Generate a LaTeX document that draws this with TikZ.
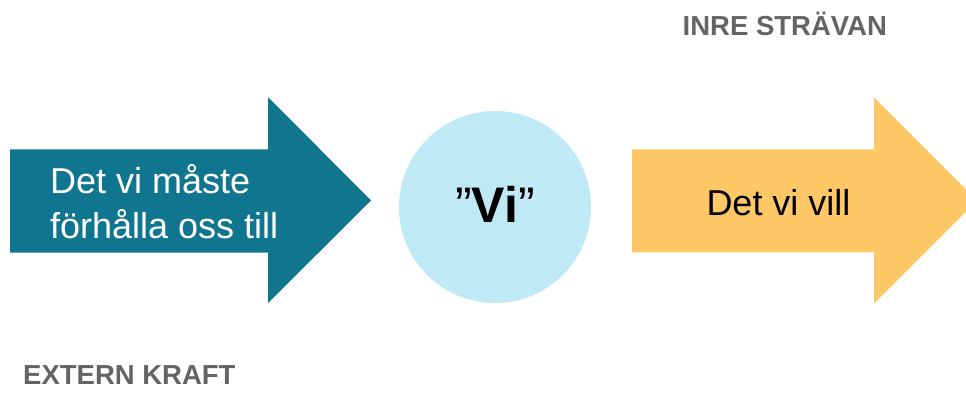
\documentclass[tikz,border=0pt]{standalone}
\usepackage{fontspec}
\setmainfont{Liberation Sans}
\definecolor{teal}{RGB}{16,118,143}
\definecolor{lightcyan}{RGB}{191,233,245}
\definecolor{orangey}{RGB}{255,200,102}
\definecolor{labelgray}{RGB}{100,100,100}
\begin{document}
\begin{tikzpicture}[x=1pt,y=-1pt,
  bigtext/.style={font=\fontsize{36}{45}\selectfont, inner sep=0pt, anchor=base west},
  caption/.style={font=\fontsize{27.5}{30}\selectfont\bfseries, text=labelgray, inner sep=0pt, anchor=base west}]
\useasboundingbox (0,0) rectangle (966,392);
\clip (0,0) rectangle (966,392);
% left arrow
\fill[teal] (10,149.3) -- (268,149.3) -- (268,97) -- (371,200.5) -- (268,303) -- (268,252.7) -- (10,252.7) -- cycle;
% circle
\fill[lightcyan] (495,207) circle[radius=96];
% right arrow
\fill[orangey] (632,149.3) -- (874,149.3) -- (874,97.5) -- (977,200.5) -- (874,303.5) -- (874,252.3) -- (632,252.3) -- cycle;
% texts
\node[bigtext, text=white, align=left] (must) at (50,193) {Det vi måste};
\node[bigtext, text=white] (must2) at (50,238) {förhålla oss till};
\node[inner sep=0pt, anchor=base, font=\fontsize{50}{55}\selectfont] (vi) at (495,222.7) {”\textbf{Vi}”};
\node[inner sep=0pt, anchor=base, font=\fontsize{36}{45}\selectfont] (want) at (778.5,215) {Det vi vill};
\node[caption] (inre) at (682.5,35) {INRE STRÄVAN};
\node[caption] (extern) at (23,384.3) {EXTERN KRAFT};
\end{tikzpicture}
\end{document}
